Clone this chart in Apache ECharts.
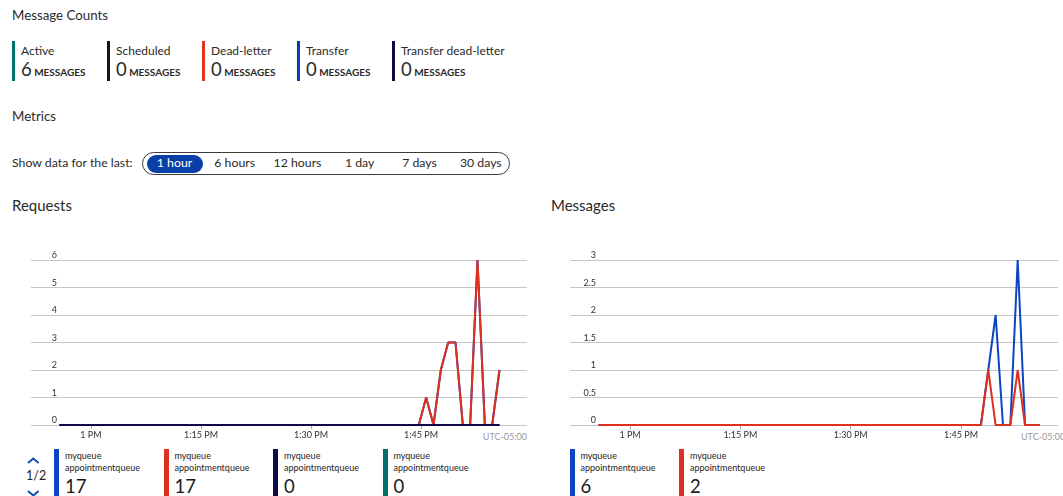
<!DOCTYPE html>
<html>
<head>
<meta charset="utf-8">
<script src="https://cdn.jsdelivr.net/npm/echarts@6/dist/echarts.min.js"></script>
<style>
  html, body { margin: 0; padding: 0; background: #fff; }
  body { width: 1063px; height: 496px; overflow: hidden; position: relative;
         font-family: Lato, "Open Sans", sans-serif; color: #2b2a29; }
  .t { position: absolute; white-space: nowrap; line-height: 1; }
  .bar { position: absolute; }
  .chart { position: absolute; }
</style>
</head>
<body>
<div id="root"></div>
<div id="reqChart" class="chart" style="left:0;top:240px;width:545px;height:205px;"></div>
<div id="msgChart" class="chart" style="left:540px;top:240px;width:523px;height:205px;"></div>
<script>
// ---- Message count tiles ----
const countLabels = ['Active', 'Scheduled', 'Dead-letter', 'Transfer', 'Transfer dead-letter'];
const countValues = [6, 0, 0, 0, 0];
const countColors = ['#00706c', '#1f0f1d', '#e3321f', '#0b3db2', '#0b0a45'];

// ---- Time range selector ----
const rangeOptions = ['1 hour', '6 hours', '12 hours', '1 day', '7 days', '30 days'];
const selectedRange = 0;

// ---- Metric samples (one per minute, local time) ----
const times = [
  '12:55:42', '12:56:42', '12:57:42', '12:58:42', '12:59:42',
  '13:00:42', '13:01:42', '13:02:42', '13:03:42', '13:04:42', '13:05:42', '13:06:42', '13:07:42', '13:08:42', '13:09:42',
  '13:10:42', '13:11:42', '13:12:42', '13:13:42', '13:14:42', '13:15:42', '13:16:42', '13:17:42', '13:18:42', '13:19:42',
  '13:20:42', '13:21:42', '13:22:42', '13:23:42', '13:24:42', '13:25:42', '13:26:42', '13:27:42', '13:28:42', '13:29:42',
  '13:30:42', '13:31:42', '13:32:42', '13:33:42', '13:34:42', '13:35:42', '13:36:42', '13:37:42', '13:38:42', '13:39:42',
  '13:40:42', '13:41:42', '13:42:42', '13:43:42', '13:44:42', '13:45:42', '13:46:42', '13:47:42', '13:48:42', '13:49:42',
  '13:50:42', '13:51:42', '13:52:42', '13:53:42', '13:54:42', '13:55:42'
];

const incomingRequests = [
  0, 0, 0, 0, 0, 0, 0, 0, 0, 0,
  0, 0, 0, 0, 0, 0, 0, 0, 0, 0,
  0, 0, 0, 0, 0, 0, 0, 0, 0, 0,
  0, 0, 0, 0, 0, 0, 0, 0, 0, 0,
  0, 0, 0, 0, 0, 0, 0, 0, 0, 0,
  1, 0, 2, 3, 3, 0, 0, 6, 0, 0,
  2
];
const successfulRequests = [
  0, 0, 0, 0, 0, 0, 0, 0, 0, 0,
  0, 0, 0, 0, 0, 0, 0, 0, 0, 0,
  0, 0, 0, 0, 0, 0, 0, 0, 0, 0,
  0, 0, 0, 0, 0, 0, 0, 0, 0, 0,
  0, 0, 0, 0, 0, 0, 0, 0, 0, 0,
  1, 0, 2, 3, 3, 0, 0, 6, 0, 0,
  2
];
const serverErrors = [
  0, 0, 0, 0, 0, 0, 0, 0, 0, 0,
  0, 0, 0, 0, 0, 0, 0, 0, 0, 0,
  0, 0, 0, 0, 0, 0, 0, 0, 0, 0,
  0, 0, 0, 0, 0, 0, 0, 0, 0, 0,
  0, 0, 0, 0, 0, 0, 0, 0, 0, 0,
  0, 0, 0, 0, 0, 0, 0, 0, 0, 0,
  0
];
const userErrors = [
  0, 0, 0, 0, 0, 0, 0, 0, 0, 0,
  0, 0, 0, 0, 0, 0, 0, 0, 0, 0,
  0, 0, 0, 0, 0, 0, 0, 0, 0, 0,
  0, 0, 0, 0, 0, 0, 0, 0, 0, 0,
  0, 0, 0, 0, 0, 0, 0, 0, 0, 0,
  0, 0, 0, 0, 0, 0, 0, 0, 0, 0,
  0
];
const incomingMessages = [
  0, 0, 0, 0, 0, 0, 0, 0, 0, 0,
  0, 0, 0, 0, 0, 0, 0, 0, 0, 0,
  0, 0, 0, 0, 0, 0, 0, 0, 0, 0,
  0, 0, 0, 0, 0, 0, 0, 0, 0, 0,
  0, 0, 0, 0, 0, 0, 0, 0, 0, 0,
  0, 0, 0, 1, 2, 0, 0, 3, 0, 0,
  0
];
const outgoingMessages = [
  0, 0, 0, 0, 0, 0, 0, 0, 0, 0,
  0, 0, 0, 0, 0, 0, 0, 0, 0, 0,
  0, 0, 0, 0, 0, 0, 0, 0, 0, 0,
  0, 0, 0, 0, 0, 0, 0, 0, 0, 0,
  0, 0, 0, 0, 0, 0, 0, 0, 0, 0,
  0, 0, 0, 1, 0, 0, 0, 1, 0, 0,
  0
];

const entityName = 'myqueue';
const queueName = 'appointmentqueue';
const tickTimes = ['13:00', '13:15', '13:30', '13:45'];
const requestTicks = [0, 1, 2, 3, 4, 5, 6];
const messageTicks = [0, 0.5, 1, 1.5, 2, 2.5, 3];
const zoneLabel = 'UTC-05:00';

const BLUE = '#0b45c0', RED = '#dd301f', NAVY = '#0c0b46', TEAL = '#00706c';
const FONT = 'Lato, "Open Sans", sans-serif';

// ---- helpers ----
const root = document.getElementById('root');
function text(str, left, baseline, size, opts = {}) {
  const d = document.createElement('div');
  d.className = 't';
  d.textContent = str;
  d.style.fontSize = size + 'px';
  d.style.top = (baseline - 0.89 * size) + 'px';
  if (opts.center !== undefined) {
    d.style.left = opts.center + 'px';
    d.style.transform = 'translateX(-50%)';
  } else if (opts.right !== undefined) {
    d.style.right = (1063 - opts.right) + 'px';
  } else {
    d.style.left = left + 'px';
  }
  if (opts.color) d.style.color = opts.color;
  if (opts.weight) d.style.fontWeight = opts.weight;
  root.appendChild(d);
  return d;
}
function box(left, top, w, h, style) {
  const d = document.createElement('div');
  d.className = 'bar';
  Object.assign(d.style, { left: left + 'px', top: top + 'px', width: w + 'px', height: h + 'px' }, style || {});
  root.appendChild(d);
  return d;
}
const toMin = (s) => { const p = s.split(':').map(Number); return p[0] * 60 + p[1] + (p[2] || 0) / 60; };
const sum = (a) => a.reduce((x, y) => x + y, 0);

// ---- header: message counts ----
text('Message Counts', 12, 20.7, 13.3);
countLabels.forEach((lab, i) => {
  const x = 12 + 95 * i;
  box(x, 41, 3, 40, { background: countColors[i] });
  text(lab, x + 9, 55.7, 12);
  const num = text(String(countValues[i]), x + 9, 76, 18.5);
  const unit = document.createElement('span');
  unit.textContent = ' MESSAGES';
  unit.style.fontSize = '10px';
  unit.style.fontWeight = '700';
  num.appendChild(unit);
});

// ---- metrics + range picker ----
text('Metrics', 12, 121.7, 13.3);
text('Show data for the last:', 12, 168.3, 12.3);
box(141.5, 151.5, 366.5, 21.5, { border: '1.5px solid #3b3b3b', borderRadius: '13px' });
const rangeCenters = [174.5, 234.7, 297.5, 359.7, 419.5, 480.8];
box(146.5, 155, 56.5, 17.5, { background: '#0b3fa8', borderRadius: '9px' });
rangeOptions.forEach((r, i) => {
  text(r, 0, 168.3, 12.3, { center: rangeCenters[i], color: i === selectedRange ? '#ffffff' : '#2b2a29' });
});

// ---- chart titles ----
text('Requests', 12, 211.7, 15);
text('Messages', 551, 211.7, 15);

// ---- charts ----
function fmtTime(m) {
  const h = Math.floor(m / 60), mm = Math.round(m % 60);
  const h12 = h > 12 ? h - 12 : h;
  return mm === 0 ? `${h12} PM` : `${h12}:${String(mm).padStart(2, '0')} PM`;
}
function makeChart(el, cfg) {
  const chart = echarts.init(el, null, { renderer: 'canvas' });
  const ticks = tickTimes.map(toMin);
  chart.setOption({
    animation: false,
    grid: { left: cfg.left, top: 20, width: cfg.width, height: 165 },
    xAxis: {
      type: 'value', min: cfg.xMin, max: cfg.xMax,
      axisLine: { show: false },
      splitLine: { show: false },
      axisTick: { show: true, length: 4, lineStyle: { color: '#a8a8a8' }, customValues: ticks },
      axisLabel: { customValues: ticks, formatter: fmtTime, fontSize: 9, color: '#333333', margin: 6, fontFamily: FONT }
    },
    yAxis: {
      type: 'value', min: cfg.yTicks[0], max: cfg.yTicks[cfg.yTicks.length - 1],
      interval: cfg.yTicks[1] - cfg.yTicks[0],
      axisLine: { show: false }, axisTick: { show: false },
      axisLabel: { inside: true, margin: 26, align: 'right', verticalAlign: 'bottom',
                   fontSize: 9, color: '#333333', fontFamily: FONT },
      splitLine: { lineStyle: { color: '#c6c6c6', width: 1 } }
    },
    series: cfg.series.map((s) => ({
      type: 'line',
      data: times.map((t, i) => [toMin(t), s.values[i]]),
      showSymbol: false,
      lineStyle: { color: s.color, width: 2 },
      itemStyle: { color: s.color },
      z: s.z
    }))
  });
}

const requestSeries = [
  { values: incomingRequests, color: BLUE, z: 2 },
  { values: successfulRequests, color: RED, z: 3 },
  { values: userErrors, color: TEAL, z: 4 },
  { values: serverErrors, color: NAVY, z: 5 }
];
const messageSeries = [
  { values: incomingMessages, color: BLUE, z: 2 },
  { values: outgoingMessages, color: RED, z: 3 }
];

makeChart(document.getElementById('reqChart'), {
  left: 31, width: 496, xMin: 771.82, xMax: 839.45, yTicks: requestTicks, series: requestSeries
});
makeChart(document.getElementById('msgChart'), {
  left: 30, width: 488, xMin: 771.84, xMax: 838.18, yTicks: messageTicks, series: messageSeries
});

text(zoneLabel, 0, 440, 9, { right: 527, color: '#9a9a9a' });
text(zoneLabel, 1021, 440, 9, { color: '#9a9a9a' });

// ---- legends with totals ----
const requestLegend = [
  { values: incomingRequests, color: BLUE },
  { values: successfulRequests, color: RED },
  { values: serverErrors, color: NAVY },
  { values: userErrors, color: TEAL }
];
const messageLegend = [
  { values: incomingMessages, color: BLUE },
  { values: outgoingMessages, color: RED }
];
function legend(items, x0) {
  items.forEach((it, i) => {
    const x = x0 + 109.5 * i;
    box(x, 449, 5, 50, { background: it.color });
    text(entityName, x + 11, 459.5, 9, { color: '#252423' });
    text(queueName, x + 11, 471, 9, { color: '#252423' });
    text(String(sum(it.values)), x + 11, 493.3, 18.5, { color: '#1b1a19' });
  });
}
legend(requestLegend, 54);
legend(messageLegend, 569.5);

// pager for the requests legend
text('1/2', 26, 481.5, 12.5, { color: '#252423' });
const svgNS = 'http://www.w3.org/2000/svg';
const svg = document.createElementNS(svgNS, 'svg');
svg.setAttribute('width', '50');
svg.setAttribute('height', '60');
svg.style.position = 'absolute';
svg.style.left = '0px';
svg.style.top = '440px';
[[28, 23, 33.3, 18.5, 38.6, 23], [28, 51, 33.3, 55.5, 38.6, 51]].forEach((p) => {
  const pl = document.createElementNS(svgNS, 'polyline');
  pl.setAttribute('points', `${p[0]},${p[1]} ${p[2]},${p[3]} ${p[4]},${p[5]}`);
  pl.setAttribute('fill', 'none');
  pl.setAttribute('stroke', '#0b4fb4');
  pl.setAttribute('stroke-width', '2');
  svg.appendChild(pl);
});
root.appendChild(svg);
</script>
</body>
</html>
